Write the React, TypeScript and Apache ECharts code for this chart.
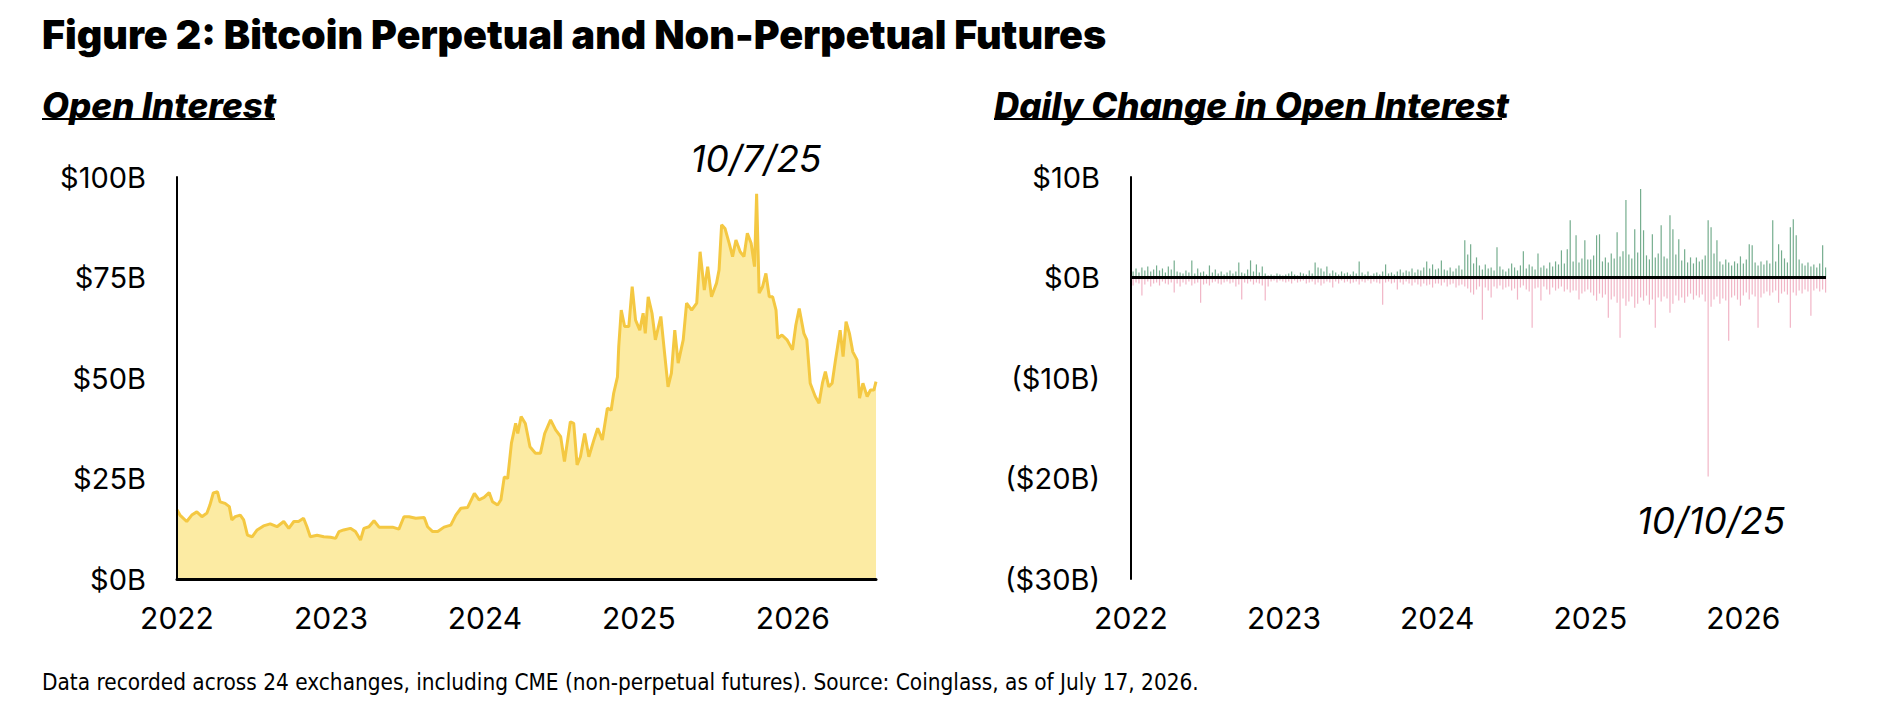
import React, { useEffect, useRef } from 'react';
import * as echarts from 'echarts';

// open interest, $B
const openInterest: Array<[string, number]> = [
  ['2022-01-01', 17.2], ['2022-01-08', 15.9], ['2022-01-24', 14.3], ['2022-02-05', 15.9],
  ['2022-02-17', 16.7], ['2022-03-01', 15.5], ['2022-03-13', 16.4], ['2022-03-20', 18.4],
  ['2022-03-28', 21.4], ['2022-04-07', 21.7], ['2022-04-13', 19.2], ['2022-04-25', 18.8],
  ['2022-05-05', 18.0], ['2022-05-11', 14.7], ['2022-05-19', 15.5], ['2022-05-31', 15.9],
  ['2022-06-08', 14.7], ['2022-06-17', 10.9], ['2022-06-28', 10.5], ['2022-07-10', 12.2],
  ['2022-07-25', 13.2], ['2022-08-10', 13.7], ['2022-08-26', 13.0], ['2022-09-11', 14.3],
  ['2022-09-23', 12.6], ['2022-10-05', 14.3], ['2022-10-16', 14.3], ['2022-10-28', 15.1],
  ['2022-11-05', 13.0], ['2022-11-13', 10.5], ['2022-11-29', 10.9], ['2022-12-15', 10.5],
  ['2022-12-31', 10.4], ['2023-01-12', 10.1], ['2023-01-20', 11.8], ['2023-01-31', 12.2],
  ['2023-02-16', 12.6], ['2023-02-28', 11.8], ['2023-03-12', 9.7], ['2023-03-20', 12.6],
  ['2023-04-01', 13.0], ['2023-04-13', 14.5], ['2023-04-25', 12.9], ['2023-05-11', 12.9],
  ['2023-05-27', 12.9], ['2023-06-11', 12.4], ['2023-06-23', 15.5], ['2023-07-05', 15.5],
  ['2023-07-21', 15.1], ['2023-08-10', 15.3], ['2023-08-18', 13.0], ['2023-08-30', 11.8],
  ['2023-09-11', 11.8], ['2023-09-26', 12.9], ['2023-10-12', 13.4], ['2023-10-24', 15.9],
  ['2023-11-05', 17.6], ['2023-11-21', 17.8], ['2023-12-07', 21.3], ['2023-12-18', 19.7],
  ['2023-12-30', 20.3], ['2024-01-11', 21.5], ['2024-01-19', 19.2], ['2024-01-31', 18.4],
  ['2024-02-08', 19.7], ['2024-02-16', 25.4], ['2024-02-24', 25.0], ['2024-03-04', 33.8],
  ['2024-03-14', 38.7], ['2024-03-19', 36.2], ['2024-03-27', 40.4], ['2024-04-06', 38.7],
  ['2024-04-17', 32.9], ['2024-04-30', 31.3], ['2024-05-12', 31.3], ['2024-05-22', 36.2],
  ['2024-06-05', 39.6], ['2024-06-17', 37.1], ['2024-06-29', 35.4], ['2024-07-08', 29.2],
  ['2024-07-22', 39.1], ['2024-07-30', 38.7], ['2024-08-07', 28.4], ['2024-08-15', 30.4],
  ['2024-08-25', 36.2], ['2024-09-04', 30.4], ['2024-09-16', 34.6], ['2024-09-25', 37.5],
  ['2024-10-06', 34.6], ['2024-10-18', 42.5], ['2024-10-27', 42.0], ['2024-11-02', 46.2],
  ['2024-11-11', 50.3], ['2024-11-14', 57.8], ['2024-11-20', 66.9], ['2024-11-28', 62.8],
  ['2024-12-08', 62.8], ['2024-12-16', 72.7], ['2024-12-24', 64.4], ['2025-01-03', 61.9],
  ['2025-01-11', 66.1], ['2025-01-16', 61.1], ['2025-01-23', 70.2], ['2025-02-01', 66.1],
  ['2025-02-09', 59.5], ['2025-02-22', 65.3], ['2025-03-02', 57.0], ['2025-03-11', 47.8],
  ['2025-03-19', 51.2], ['2025-03-27', 61.9], ['2025-04-04', 53.7], ['2025-04-16', 59.5],
  ['2025-04-24', 68.6], ['2025-05-06', 66.9], ['2025-05-18', 68.6], ['2025-05-26', 81.4],
  ['2025-06-05', 71.9], ['2025-06-13', 77.7], ['2025-06-22', 70.2], ['2025-07-04', 73.6],
  ['2025-07-10', 76.9], ['2025-07-16', 88.1], ['2025-07-24', 87.2], ['2025-08-03', 83.5],
  ['2025-08-11', 80.2], ['2025-08-19', 84.3], ['2025-08-29', 81.4], ['2025-09-07', 80.2],
  ['2025-09-15', 86.0], ['2025-09-24', 83.5], ['2025-10-02', 77.7], ['2025-10-07', 95.8],
  ['2025-10-13', 71.1], ['2025-10-21', 72.7], ['2025-10-29', 76.0], ['2025-11-06', 70.2],
  ['2025-11-14', 70.2], ['2025-11-22', 66.9], ['2025-11-26', 59.9], ['2025-12-06', 60.7],
  ['2025-12-18', 59.5], ['2025-12-31', 57.0], ['2026-01-08', 63.2], ['2026-01-16', 67.3],
  ['2026-01-27', 61.1], ['2026-02-03', 59.5], ['2026-02-11', 48.7], ['2026-02-23', 45.4],
  ['2026-03-04', 43.7], ['2026-03-12', 48.7], ['2026-03-19', 51.6], ['2026-03-27', 47.8],
  ['2026-04-04', 48.7], ['2026-04-12', 54.5], ['2026-04-23', 61.9], ['2026-04-30', 55.3],
  ['2026-05-07', 64.0], ['2026-05-15', 61.1], ['2026-05-23', 56.5], ['2026-06-02', 54.5],
  ['2026-06-08', 45.0], ['2026-06-16', 48.7], ['2026-06-26', 45.4], ['2026-07-04', 47.0],
  ['2026-07-12', 47.0], ['2026-07-17', 49.1],
];

// largest daily rise / fall in each week, $B (weeks centred from 2022-01-06)
const gains2022 = [
  0.6, 0.9, 0.5, 1.0, 0.7, 1.1, 0.6, 0.8, 1.2, 0.7, 0.9, 0.5, 1.1,
  0.8, 1.7, 0.6, 0.5, 0.4, 0.7, 0.5, 1.7, 0.4, 0.9, 0.5, 0.6, 0.3,
  1.2, 0.5, 0.8, 0.4, 0.6, 0.3, 0.5, 0.7, 0.4, 0.6, 1.5, 0.5, 0.4,
  0.8, 1.7, 0.6, 1.3, 0.5, 1.1, 0.4, 0.2, 0.3, 0.2, 0.4, 0.3, 0.2,
];
const losses2022 = [
  -0.8, -0.5, -0.6, -1.8, -0.7, -0.4, -0.9, -0.6, -0.5, -0.8, -0.4, -0.6, -0.7,
  -0.5, -1.5, -0.6, -0.9, -0.5, -0.7, -0.4, -0.8, -0.6, -0.5, -2.5, -0.7, -0.6,
  -0.8, -0.5, -0.4, -0.6, -0.7, -0.5, -0.4, -0.6, -0.5, -0.9, -0.7, -2.2, -0.5,
  -0.6, -0.4, -0.7, -0.5, -0.6, -0.8, -2.3, -0.9, -0.4, -0.3, -0.5, -0.3, -0.4,
];
const gains2023 = [
  0.3, 0.4, 0.6, 0.3, 0.2, 0.5, 0.4, 0.3, 0.7, 0.4, 1.5, 1.0, 0.9,
  0.6, 1.1, 0.4, 0.7, 0.5, 0.3, 0.6, 0.4, 0.5, 0.3, 0.6, 0.4, 1.6,
  0.5, 0.3, 0.6, 0.2, 0.4, 0.5, 0.3, 0.6, 1.3, 0.4, 0.5, 0.3, 0.6,
  0.8, 0.5, 0.7, 0.6, 0.9, 0.5, 0.8, 0.7, 1.0, 1.6, 0.9, 1.3, 0.8,
];
const losses2023 = [
  -0.5, -0.4, -0.6, -0.3, -0.5, -0.4, -0.3, -0.6, -0.5, -0.4, -0.7, -0.5, -0.8,
  -0.6, -0.4, -0.5, -1.0, -0.4, -0.6, -0.3, -0.5, -0.4, -0.6, -0.5, -0.4, -0.7,
  -0.4, -0.5, -0.3, -0.6, -0.4, -0.5, -0.6, -2.7, -0.5, -0.4, -0.6, -0.5, -1.2,
  -0.5, -0.7, -0.4, -0.6, -0.8, -0.5, -0.7, -0.9, -0.6, -0.8, -0.7, -1.0, -0.6,
];
const gains2024 = [
  0.9, 1.7, 0.8, 0.7, 1.0, 0.6, 0.9, 1.2, 0.8, 3.7, 2.3, 3.3, 1.4,
  2.0, 1.2, 0.8, 1.3, 0.9, 1.0, 0.7, 3.0, 1.1, 0.8, 0.6, 0.9, 1.4,
  1.0, 0.7, 1.2, 2.6, 0.9, 1.3, 1.1, 0.8, 2.4, 1.0, 1.2, 0.9, 1.5,
  1.1, 1.6, 1.3, 2.7, 1.4, 2.8, 5.7, 1.6, 4.2, 1.5, 1.9, 3.7, 1.8,
];
const losses2024 = [
  -0.6, -0.8, -0.5, -0.9, -0.7, -0.6, -1.0, -0.8, -0.7, -0.9, -1.1, -1.5, -1.7,
  -1.2, -0.9, -4.2, -1.0, -1.3, -2.0, -0.9, -1.1, -0.8, -1.2, -1.0, -0.9, -1.3,
  -1.1, -2.2, -1.0, -0.8, -1.2, -1.4, -5.0, -1.1, -1.0, -2.3, -0.9, -1.2, -1.7,
  -1.0, -1.3, -1.1, -0.9, -1.4, -1.2, -1.5, -1.3, -1.3, -2.2, -1.6, -1.4, -1.2,
];
const gains2025 = [
  1.8, 2.2, 4.2, 4.3, 1.6, 2.0, 1.5, 2.4, 1.9, 4.5, 2.1, 2.6, 7.7,
  2.3, 1.9, 4.8, 2.5, 8.8, 4.7, 2.2, 1.8, 4.3, 2.0, 2.4, 5.2, 2.1,
  1.9, 6.2, 4.8, 2.3, 3.8, 1.7, 2.8, 1.5, 2.0, 1.4, 2.0, 1.6, 1.8,
  2.2, 5.7, 5.0, 2.4, 3.7, 1.6, 1.3, 1.8, 1.5, 1.2, 1.6, 1.4, 2.1,
];
const losses2025 = [
  -1.5, -1.8, -2.3, -1.6, -2.0, -1.7, -4.0, -2.2, -1.9, -2.5, -6.0, -2.1, -2.8,
  -2.4, -1.9, -3.0, -2.6, -2.0, -2.3, -1.8, -2.7, -2.2, -5.0, -2.0, -2.4, -1.9,
  -2.1, -3.5, -2.6, -1.8, -2.3, -2.0, -2.5, -1.9, -1.6, -2.2, -1.8, -2.0, -1.7,
  -2.4, -19.8, -2.9, -2.2, -1.9, -2.6, -2.1, -2.3, -6.3, -2.0, -1.8, -2.2, -2.8,
];
const gains2026 = [
  1.4, 1.8, 3.3, 3.2, 1.5, 1.2, 1.6, 1.3, 1.7, 1.4, 5.7, 1.6, 3.3, 2.7, 1.9,
  1.5, 5.0, 5.8, 4.2, 1.8, 1.4, 1.2, 1.5, 1.1, 1.3, 1.0, 1.4, 3.2, 1.0,
];
const losses2026 = [
  -1.8, -1.5, -2.2, -1.7, -1.9, -5.0, -2.0, -1.6, -1.4, -1.8, -1.5, -1.3, -2.5, -1.6, -1.4,
  -1.7, -5.0, -1.5, -1.8, -1.3, -1.6, -1.2, -1.4, -3.8, -1.3, -1.1, -1.4, -1.2, -1.5,
];

const yearTicks = [2022, 2023, 2024, 2025, 2026];
const firstWeek = '2022-01-06';
const lastDay = '2026-07-17';

const TITLE = 'Figure 2: Bitcoin Perpetual and Non-Perpetual Futures';
const NOTE = 'Data recorded across 24 exchanges, including CME (non-perpetual futures). Source: Coinglass, as of July 17, 2026.';

const DAY = 86400000;
const msToYear = (ms: number) => {
  const y = new Date(ms).getUTCFullYear();
  const start = Date.UTC(y, 0, 1);
  return y + (ms - start) / (Date.UTC(y + 1, 0, 1) - start);
};
const dateMs = (d: string) => {
  const [y, m, day] = d.split('-').map(Number);
  return Date.UTC(y, m - 1, day);
};
const toYear = (d: string) => msToYear(dateMs(d));

const FONT = 'Inter, Roboto, sans-serif';

export default function App() {
  const chartRef = useRef<HTMLDivElement>(null);

  useEffect(() => {
    if (!chartRef.current) return;
    const chart = echarts.init(chartRef.current, null, { renderer: 'svg' });

    const xMin = yearTicks[0];
    const xMax = toYear(lastDay);
    const weekX = (i: number) => msToYear(dateMs(firstWeek) + i * 7 * DAY);

    const gains = [...gains2022, ...gains2023, ...gains2024, ...gains2025, ...gains2026];
    const losses = [...losses2022, ...losses2023, ...losses2024, ...losses2025, ...losses2026];

    const yearLabel = (v: number) => (Number.isInteger(v) && yearTicks.includes(v) ? String(v) : '');

    const xLabel = {
      formatter: yearLabel,
      color: '#000',
      fontSize: 30,
      fontFamily: FONT,
      margin: 24,
      showMaxLabel: false,
    };
    const yLabelBase = { color: '#000', fontSize: 29, fontFamily: FONT, margin: 31 };

    const option: echarts.EChartsOption = {
      animation: false,
      backgroundColor: '#fff',
      grid: [
        { left: 177, top: 177, width: 699, height: 402 },
        { left: 1131, top: 177, width: 695, height: 402 },
      ],
      xAxis: [
        {
          gridIndex: 0,
          type: 'value',
          min: xMin,
          max: xMax,
          interval: 1,
          axisLine: { show: true, onZero: false, lineStyle: { color: '#000', width: 3 } },
          axisTick: { show: false },
          splitLine: { show: false },
          axisLabel: xLabel,
          z: 4,
        },
        {
          gridIndex: 1,
          type: 'value',
          min: xMin,
          max: xMax,
          interval: 1,
          axisLine: { show: false },
          axisTick: { show: false },
          splitLine: { show: false },
          axisLabel: xLabel,
        },
      ],
      yAxis: [
        {
          gridIndex: 0,
          type: 'value',
          min: 0,
          max: 100,
          interval: 25,
          axisLine: { show: true, lineStyle: { color: '#000', width: 2 } },
          axisTick: { show: false },
          splitLine: { show: false },
          axisLabel: { ...yLabelBase, formatter: (v: number) => `$${v}B` },
          z: 4,
        },
        {
          gridIndex: 1,
          type: 'value',
          min: -30,
          max: 10,
          interval: 10,
          axisLine: { show: true, lineStyle: { color: '#000', width: 2 } },
          axisTick: { show: false },
          splitLine: { show: false },
          axisLabel: {
            ...yLabelBase,
            formatter: (v: number) => (v < 0 ? `($${-v}B)` : `$${v}B`),
          },
          z: 4,
        },
      ],
      series: [
        {
          name: 'Open Interest',
          type: 'line',
          xAxisIndex: 0,
          yAxisIndex: 0,
          symbol: 'none',
          lineStyle: { color: '#F4C842', width: 3 },
          areaStyle: { color: '#FCEBA3', opacity: 1 },
          data: openInterest.map(([d, v]) => [toYear(d), v]),
        },
        {
          name: 'Rise',
          type: 'bar',
          xAxisIndex: 1,
          yAxisIndex: 1,
          barWidth: 1.2,
          barGap: '-100%',
          itemStyle: { color: '#3a8a5e', opacity: 0.7 },
          data: gains.map((v, i) => [weekX(i), v]),
        },
        {
          name: 'Fall',
          type: 'bar',
          xAxisIndex: 1,
          yAxisIndex: 1,
          barWidth: 1.2,
          barGap: '-100%',
          itemStyle: { color: '#f0adc0', opacity: 0.9 },
          data: losses.map((v, i) => [weekX(i), v]),
          markLine: {
            silent: true,
            symbol: ['none', 'none'],
            label: { show: false },
            lineStyle: { color: '#000', width: 3, type: 'solid' },
            data: [{ yAxis: 0 }],
          },
        },
      ],
      graphic: [
        {
          type: 'text',
          x: 42,
          y: 35,
          style: { text: TITLE, font: `900 39.5px ${FONT}`, fill: '#000', verticalAlign: 'middle' },
        },
        {
          type: 'text',
          x: 42,
          y: 105,
          style: { text: 'Open Interest', font: `italic 800 35px ${FONT}`, fill: '#000', verticalAlign: 'middle' },
        },
        {
          type: 'line',
          shape: { x1: 42, y1: 119, x2: 275, y2: 119 },
          style: { stroke: '#000', lineWidth: 2 },
        },
        {
          type: 'text',
          x: 994,
          y: 105,
          style: {
            text: 'Daily Change in Open Interest',
            font: `italic 800 35px ${FONT}`,
            fill: '#000',
            verticalAlign: 'middle',
          },
        },
        {
          type: 'line',
          shape: { x1: 994, y1: 119, x2: 1502, y2: 119 },
          style: { stroke: '#000', lineWidth: 2 },
        },
        {
          type: 'text',
          x: 756,
          y: 158,
          style: { text: '10/7/25', font: `italic 400 37px ${FONT}`, fill: '#000', align: 'center', verticalAlign: 'middle' },
        },
        {
          type: 'text',
          x: 1711,
          y: 520,
          style: { text: '10/10/25', font: `italic 400 37px ${FONT}`, fill: '#000', align: 'center', verticalAlign: 'middle' },
        },
        {
          type: 'text',
          x: 42,
          y: 682,
          style: {
            text: NOTE,
            font: `400 22.4px "DejaVu Sans Condensed", Roboto, sans-serif`,
            fill: '#000',
            verticalAlign: 'middle',
          },
        },
      ],
    };

    chart.setOption(option);
    return () => chart.dispose();
  }, []);

  return (
    <div
      ref={chartRef}
      style={{ position: 'absolute', left: 0, top: 0, width: 1896, height: 712, background: '#fff' }}
    />
  );
}
